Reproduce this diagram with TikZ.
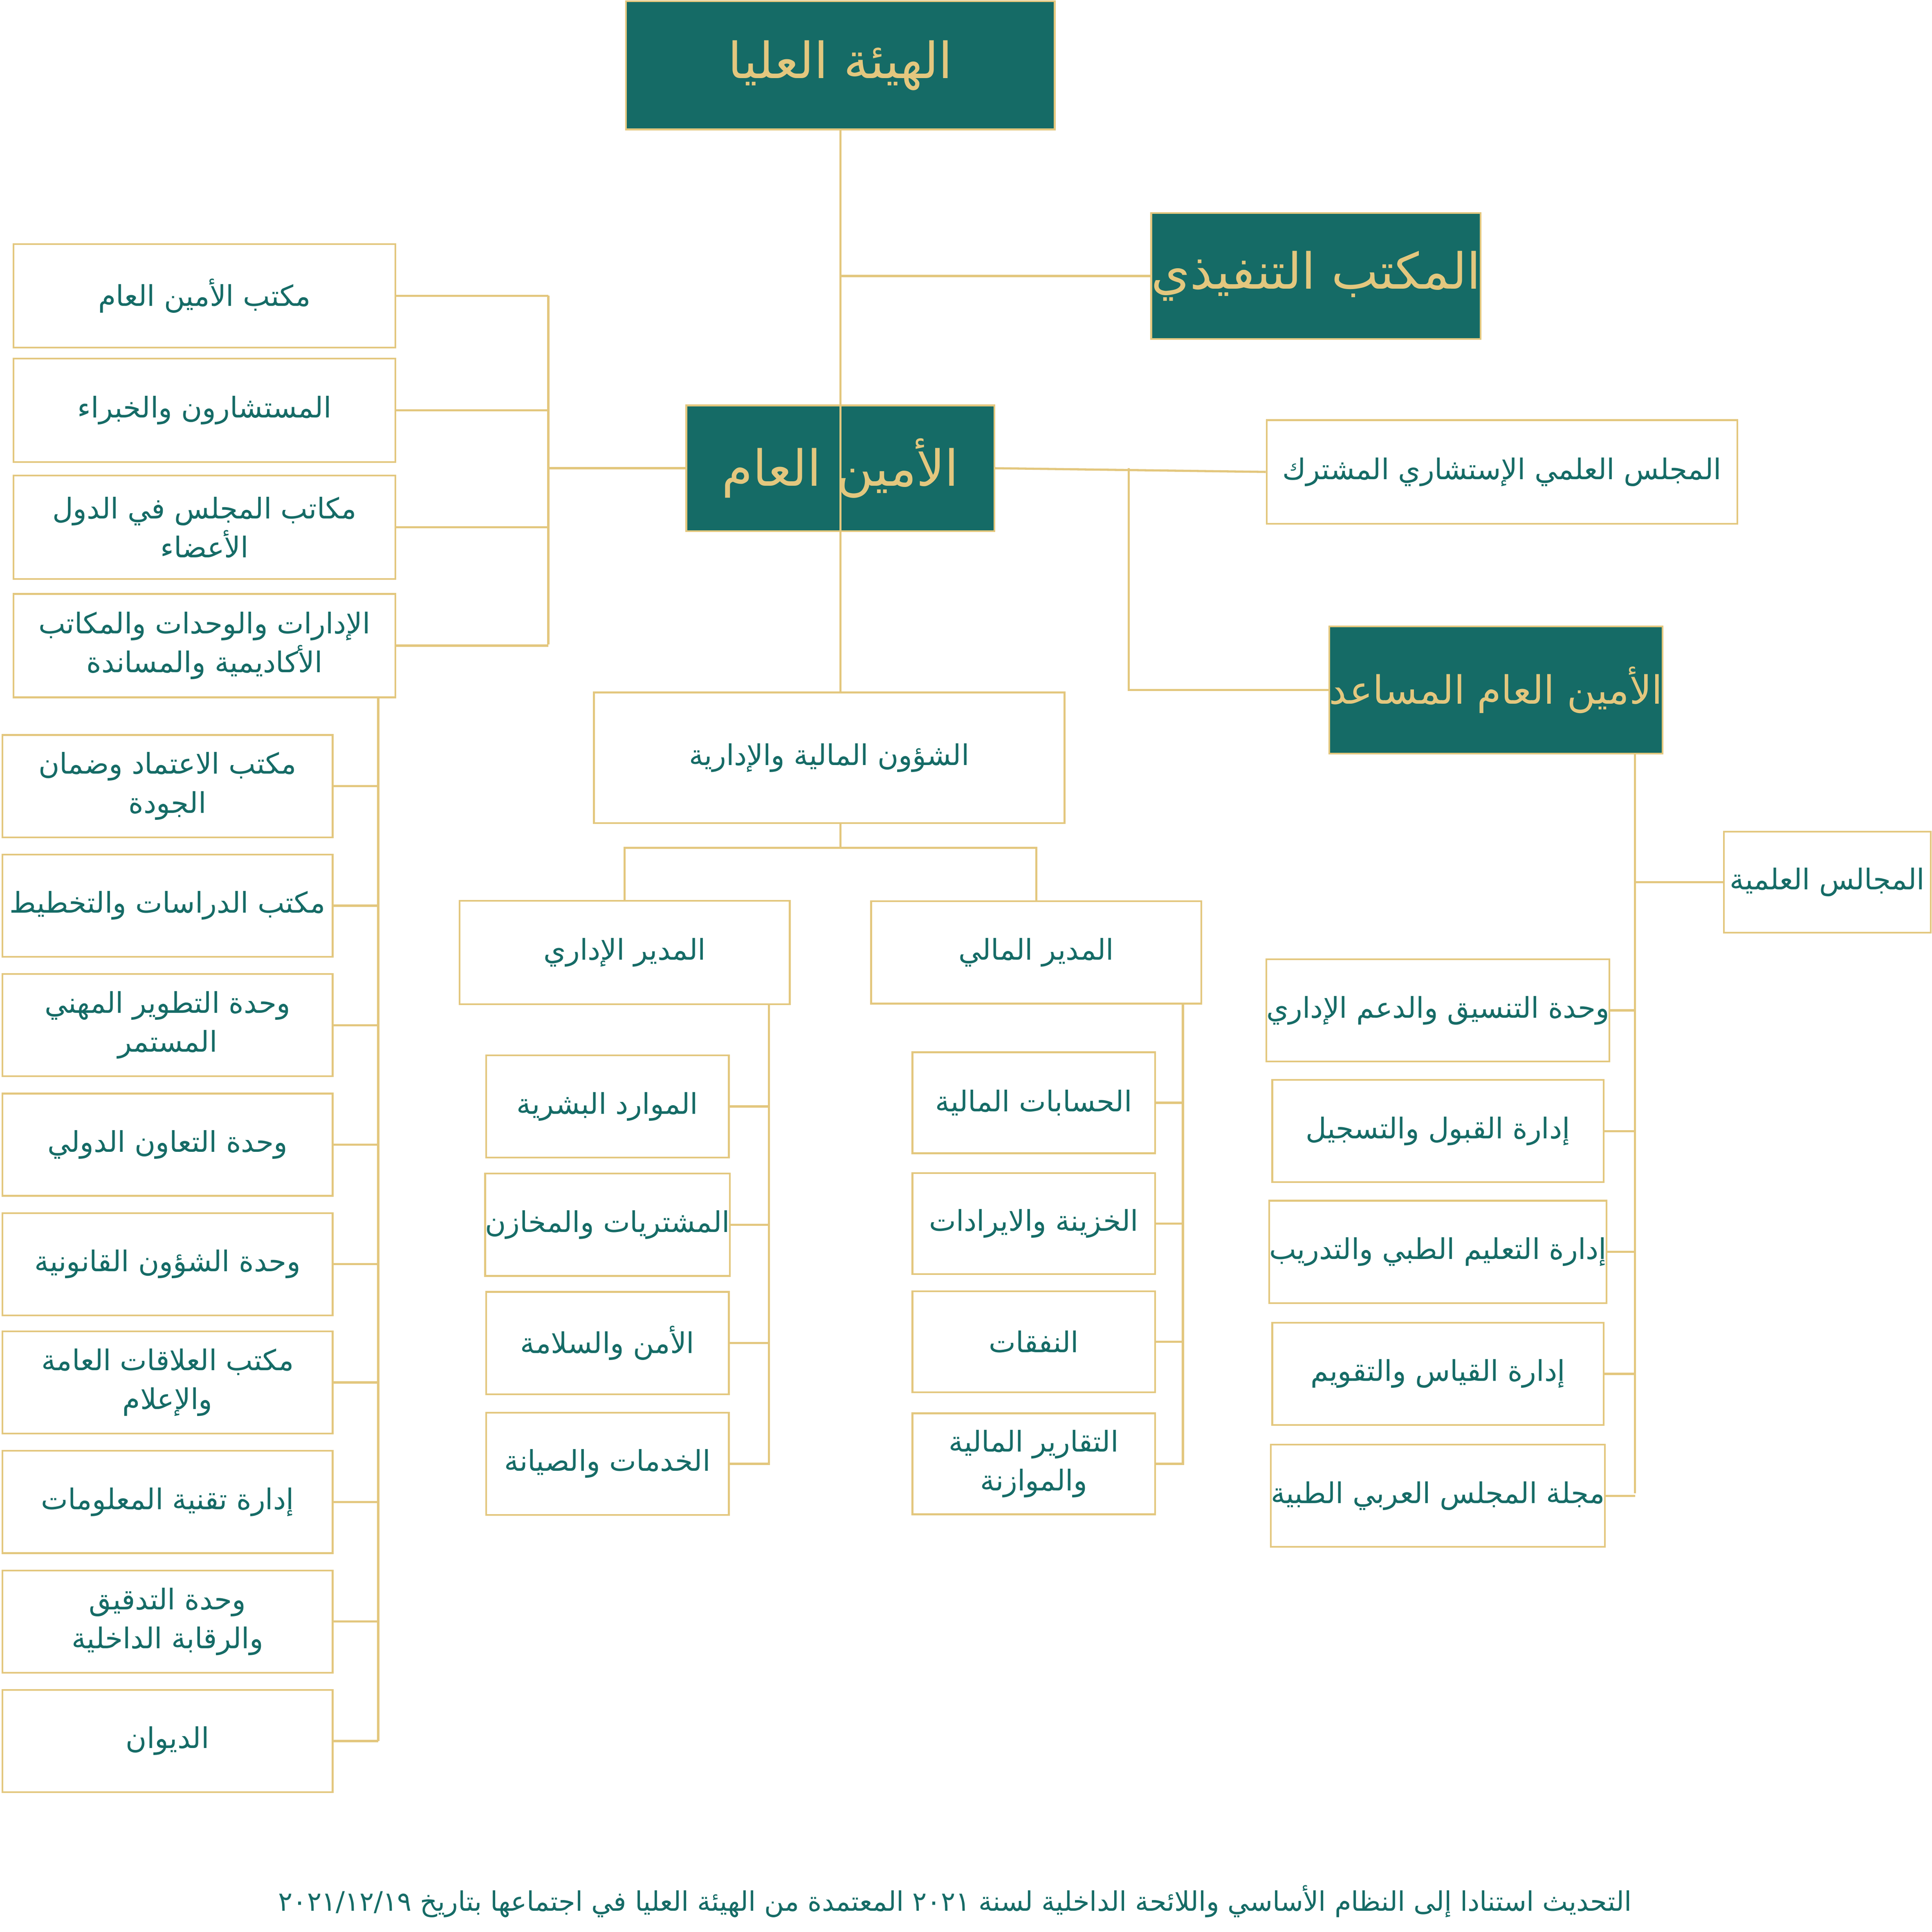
\documentclass[tikz,border=0pt]{standalone}
\usepackage{fontspec}
\TeXXeTstate=1
\newfontfamily\arabicfont[Script=Arabic]{DejaVu Sans}
\definecolor{teal}{HTML}{156B66}
\definecolor{gold}{HTML}{E3C77E}
\newcommand{\ar}[1]{{\arabicfont\beginR #1\endR}}
\begin{document}
\begin{tikzpicture}[x=0.1cm,y=-0.1cm,
 hbox/.style={draw=gold,line width=4pt,fill=teal,text=gold,font=\fontsize{115}{130}\selectfont,inner sep=0pt},
 wbox/.style={draw=gold,line width=4pt,fill=white,text=teal,align=center,font=\fontsize{66}{90}\selectfont,inner sep=0pt},
 ln/.style={draw=gold,line width=5pt}]
\fill[white] (0,0) rectangle (1568,1568);
\newcommand{\bx}[6]{\node[#1,minimum width=(#4-#2)*0.1cm,minimum height=(#5-#3)*0.1cm] (#6) at ({(#2+#4)/2},{(#3+#5)/2}) {};}
% headers
\node[hbox,minimum width=34.8cm,minimum height=10.4cm] (top) at (682,53) {\ar{الهيئة العليا}};
\node[hbox,minimum width=25cm,minimum height=10.2cm] (exe) at (1068,224) {\ar{المكتب التنفيذي}};
\node[hbox,minimum width=25cm,minimum height=10.2cm] (sg) at (682,380) {\ar{الأمين العام}};
\node[hbox,minimum width=26.6cm,minimum height=10.3cm,font=\fontsize{90}{100}\selectfont] (asg) at (1214,560) {\ar{الأمين العام المساعد}};
\node[wbox,minimum width=38.2cm,minimum height=8.4cm] (cnc) at (1219,383) {\ar{المجلس العلمي الإستشاري المشترك}};
\node[wbox,minimum width=38.2cm,minimum height=10.6cm] (fa) at (673,615) {\ar{الشؤون المالية والإدارية}};
\node[wbox,minimum width=26.8cm,minimum height=8.4cm] (ad) at (507,773) {\ar{المدير الإداري}};
\node[wbox,minimum width=26.8cm,minimum height=8.3cm] (fd) at (841,773) {\ar{المدير المالي}};
\node[wbox,minimum width=16.8cm,minimum height=8.2cm] (sc) at (1483,716) {\ar{المجالس العلمية}};
% left top
\foreach \n/\y/\t in {l1/240/{\ar{مكتب الأمين العام}},l2/333/{\ar{المستشارون والخبراء}},l3/428/{\ar{مكاتب المجلس في الدول}\\\ar{الأعضاء}},l4/524/{\ar{الإدارات والوحدات والمكاتب}\\\ar{الأكاديمية والمساندة}}}
 \node[wbox,minimum width=31cm,minimum height=8.4cm] (\n) at (166,\y) {\t};
% left column
\foreach \n/\y/\t in {c1/638/{\ar{مكتب الاعتماد وضمان}\\\ar{الجودة}},c2/735/{\ar{مكتب الدراسات والتخطيط}},c3/832/{\ar{وحدة التطوير المهني}\\\ar{المستمر}},c4/929/{\ar{وحدة التعاون الدولي}},c5/1026/{\ar{وحدة الشؤون القانونية}},c6/1122/{\ar{مكتب العلاقات العامة}\\\ar{والإعلام}},c7/1219/{\ar{إدارة تقنية المعلومات}},c8/1316/{\ar{وحدة التدقيق}\\\ar{والرقابة الداخلية}},c9/1413/{\ar{الديوان}}}
 \node[wbox,minimum width=26.8cm,minimum height=8.3cm] (\n) at (136,\y) {\t};
% admin subs
\foreach \n/\y/\t in {a1/898/{\ar{الموارد البشرية}},a2/994/{\ar{المشتريات والمخازن}},a3/1090/{\ar{الأمن والسلامة}},a4/1188/{\ar{الخدمات والصيانة}}}
 \node[wbox,minimum width=19.7cm,minimum height=8.3cm] (\n) at (493,\y) {\t};
\foreach \n/\y/\t in {f1/895/{\ar{الحسابات المالية}},f2/993/{\ar{الخزينة والايرادات}},f3/1089/{\ar{النفقات}},f4/1188/{\ar{التقارير المالية}\\\ar{والموازنة}}}
 \node[wbox,minimum width=19.7cm,minimum height=8.2cm] (\n) at (839,\y) {\t};
\foreach \n/\y/\t in {r1/820/{\ar{وحدة التنسيق والدعم الإداري}},r2/918/{\ar{إدارة القبول والتسجيل}},r3/1016/{\ar{إدارة التعليم الطبي والتدريب}},r4/1115/{\ar{إدارة القياس والتقويم}},r5/1214/{\ar{مجلة المجلس العربي الطبية}}}
 \node[wbox,minimum width=26.9cm,minimum height=8.3cm] (\n) at (1167,\y) {\t};
% connectors
\draw[ln] (top.south) -- (fa.north -| top.south);
\draw[ln] (exe.west) -- (682,224);
\draw[ln] (sg.west) -- (445,380);
\draw[ln] (445,240) -- (445,523);
\foreach \n in {l1,l2,l3,l4} \draw[ln] (\n.east) -- (\n.east -| 445,0);
\draw[ln] (sg.east) -- (cnc.west);
\draw[ln] (916,380) |- (asg.west);
\draw[ln] (307,566) -- (307,1413);
\foreach \n in {c1,c2,c3,c4,c5,c6,c7,c8,c9} \draw[ln] (\n.east) -- (\n.east -| 307,0);
\draw[ln] (682,668) -- (682,688);
\draw[ln] (ad.north) |- (fd.north |- 0,688) -- (fd.north);
\draw[ln] (624,815) -- (624,1189);
\foreach \n in {a1,a2,a3,a4} \draw[ln] (\n.east) -- (\n.east -| 624,0);
\draw[ln] (960,815) -- (960,1189);
\foreach \n in {f1,f2,f3,f4} \draw[ln] (\n.east) -- (\n.east -| 960,0);
\draw[ln] (1327,612) -- (1327,1212);
\draw[ln] (sc.west) -- (sc.west -| 1327,0);
\foreach \n in {r1,r2,r3,r4,r5} \draw[ln] (\n.east) -- (\n.east -| 1327,0);
\node[text=teal,font=\fontsize{62}{70}\selectfont] (foot) at (775,1543) {\ar{التحديث استنادا إلى النظام الأساسي واللائحة الداخلية لسنة \beginL٢٠٢١\endL{} المعتمدة من الهيئة العليا في اجتماعها بتاريخ \beginL٢٠٢١/١٢/١٩\endL}};
\end{tikzpicture}
\end{document}
